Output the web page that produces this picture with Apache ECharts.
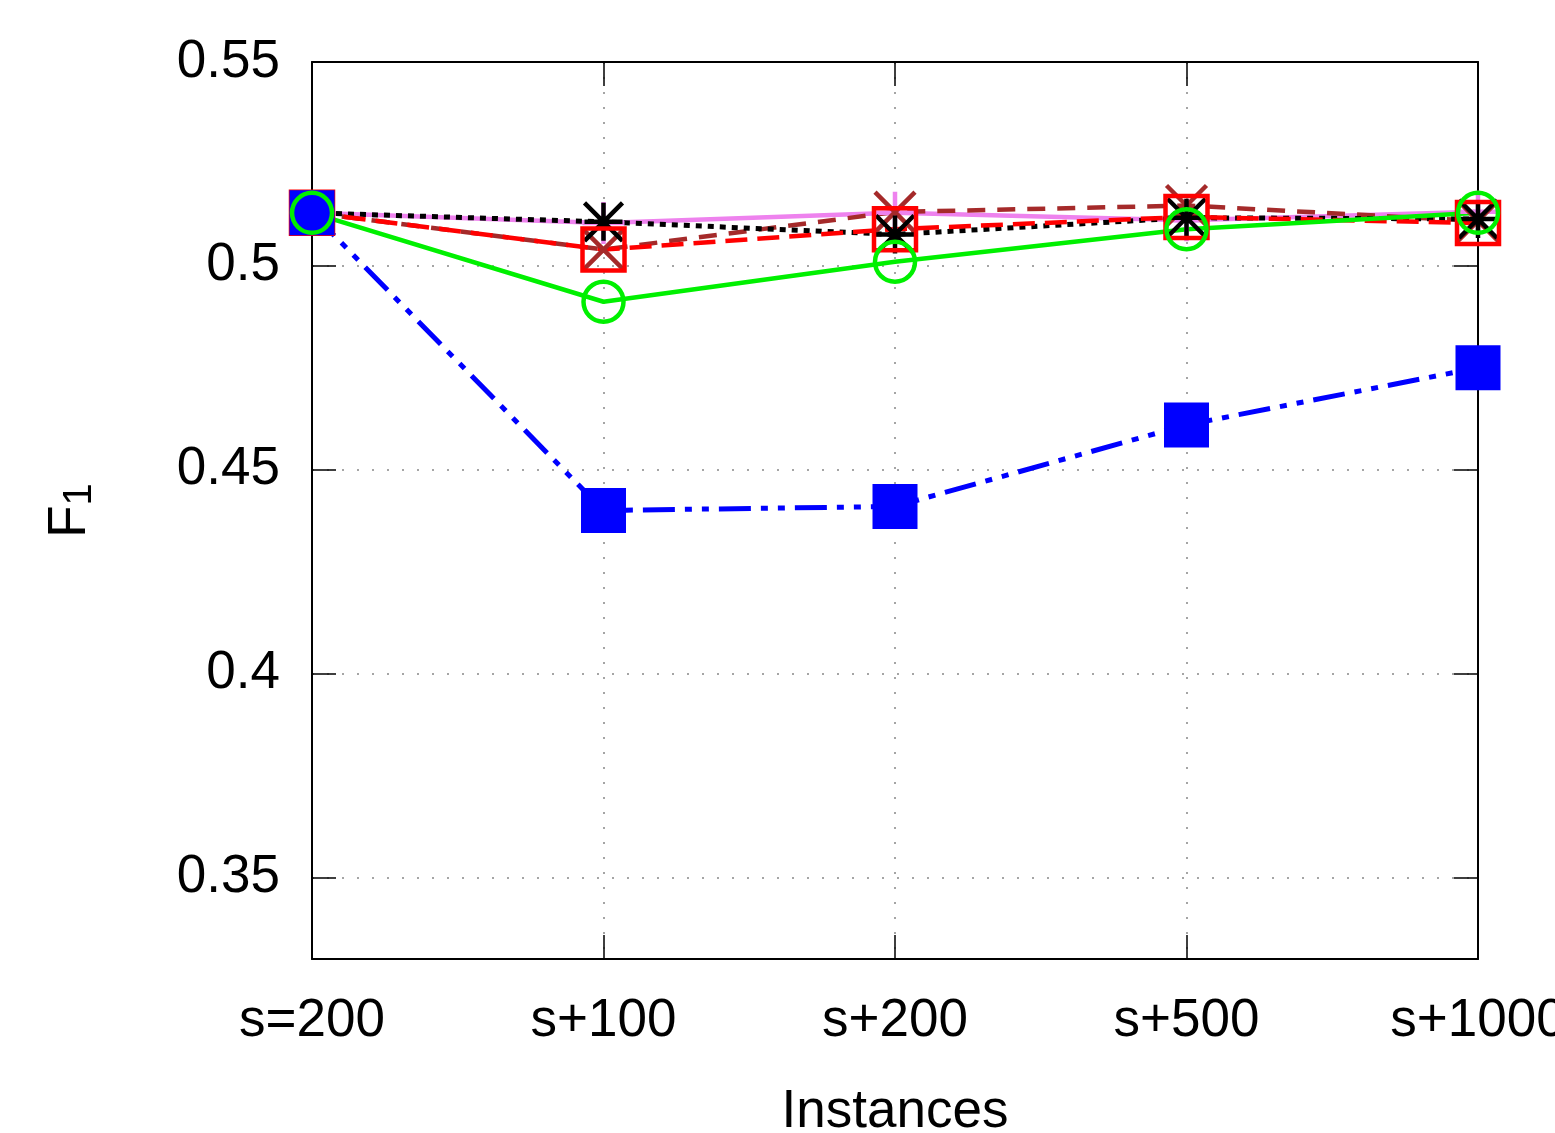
<!DOCTYPE html>
<html>
<head>
<meta charset="utf-8">
<title>F1 vs instances</title>
<script src="https://cdn.jsdelivr.net/npm/echarts@6/dist/echarts.min.js"></script>
<style>
  html, body { margin: 0; padding: 0; background: #fff; overflow: hidden; }
  #chart { width: 1555px; height: 1133px; }
</style>
</head>
<body>
<div id="chart"></div>
<script>
// data
const categories = ['s=200', 's+100', 's+200', 's+500', 's+1000']
const yTicks = [0.35, 0.4, 0.45, 0.5, 0.55]

const violetData = [0.513, 0.5105, 0.513, 0.5112, 0.5133]
const brownData = [0.513, 0.504, 0.5132, 0.5148, 0.511]
const blackData = [0.513, 0.5108, 0.5077, 0.5118, 0.5115]
const redData = [0.513, 0.504, 0.509, 0.512, 0.5105]
const blueData = [0.513, 0.440, 0.441, 0.461, 0.475]
const greenData = [0.513, 0.4912, 0.501, 0.509, 0.513]

const font = 'Liberation Sans, Arial, sans-serif'
const plusPath = 'path://M5,0L5,10M0,5L10,5'
const crossPath = 'path://M0,0L10,10M10,0L0,10'
const starPath = 'path://M5,0L5,10M0,5L10,5M0,0L10,10M10,0L0,10'

function strokeMarker(color, w) {
  return { color: 'none', borderColor: color, borderWidth: w || 4 }
}

const chart = echarts.init(document.getElementById('chart'))

const gridLine = {
  show: true,
  lineStyle: { color: '#888', width: 1.5, type: [2, 13] }
}
const frameLine = { show: true, onZero: false, lineStyle: { color: '#000', width: 2 } }
const tickStyle = { color: '#000', width: 1.5 }

chart.setOption({
  animation: false,
  backgroundColor: '#fff',
  textStyle: { fontFamily: font },
  grid: { left: 312, right: 77, top: 62, bottom: 174, containLabel: false, outerBoundsMode: 'none' },
  xAxis: [{
    type: 'category',
    data: categories,
    boundaryGap: false,
    axisLine: frameLine,
    axisTick: { show: true, inside: true, length: 24, interval: 0, lineStyle: tickStyle },
    axisLabel: { interval: 0, fontSize: 53, color: '#000', fontFamily: font, margin: 36 },
    splitLine: gridLine,
    name: 'Instances',
    nameLocation: 'middle',
    nameGap: 127,
    nameTextStyle: { fontSize: 53, color: '#000', fontFamily: font }
  }, {
    type: 'category',
    data: categories,
    boundaryGap: false,
    position: 'top',
    axisLine: frameLine,
    axisTick: { show: true, inside: true, length: 24, interval: 0, lineStyle: tickStyle },
    axisLabel: { show: false },
    splitLine: { show: false }
  }],
  yAxis: [{
    type: 'value',
    min: 0.33,
    max: 0.55,
    axisLine: frameLine,
    axisTick: { show: true, inside: true, length: 24, customValues: yTicks, lineStyle: tickStyle },
    axisLabel: { fontSize: 53, color: '#000', fontFamily: font, margin: 32, customValues: yTicks },
    splitLine: gridLine,
    name: '{f|F}{s|1}',
    nameLocation: 'middle',
    nameGap: 212,
    nameTextStyle: {
      rich: {
        f: { fontSize: 53, color: '#000', fontFamily: font, lineHeight: 60 },
        s: { fontSize: 40, color: '#000', fontFamily: font, lineHeight: 60, verticalAlign: 'bottom', padding: [28, 0, 0, 0] }
      }
    }
  }, {
    type: 'value',
    min: 0.33,
    max: 0.55,
    position: 'right',
    axisLine: frameLine,
    axisTick: { show: true, inside: true, length: 24, customValues: yTicks, lineStyle: tickStyle },
    axisLabel: { show: false, customValues: yTicks },
    splitLine: { show: false }
  }],
  series: [{
    name: 'violet',
    type: 'line',
    data: violetData,
    symbol: plusPath,
    symbolSize: 42,
    lineStyle: { color: '#ee82ee', width: 4.5, type: 'solid' },
    itemStyle: strokeMarker('#ee82ee', 4.5)
  }, {
    name: 'brown',
    type: 'line',
    data: brownData,
    symbol: crossPath,
    symbolSize: 40,
    lineStyle: { color: '#a52a2a', width: 4.5, type: [18, 12] },
    itemStyle: strokeMarker('#a52a2a', 4.5)
  }, {
    name: 'black',
    type: 'line',
    data: blackData,
    symbol: starPath,
    symbolSize: 38,
    lineStyle: { color: '#000', width: 5, type: [6, 6] },
    itemStyle: strokeMarker('#000', 4.5)
  }, {
    name: 'red',
    type: 'line',
    data: redData,
    symbol: 'rect',
    symbolSize: 42,
    lineStyle: { color: '#ff0000', width: 4.5, type: [22, 10] },
    itemStyle: strokeMarker('#ff0000', 4.5)
  }, {
    name: 'blue',
    type: 'line',
    data: blueData,
    symbol: 'rect',
    symbolSize: 45,
    lineStyle: { color: '#0000ff', width: 5, type: [32, 10, 7, 10, 7, 10] },
    itemStyle: { color: '#0000ff' }
  }, {
    name: 'green',
    type: 'line',
    data: greenData,
    symbol: 'circle',
    symbolSize: 40,
    lineStyle: { color: '#00f000', width: 4.5, type: 'solid' },
    itemStyle: strokeMarker('#00f000', 4.5)
  }]
})
</script>
</body>
</html>
